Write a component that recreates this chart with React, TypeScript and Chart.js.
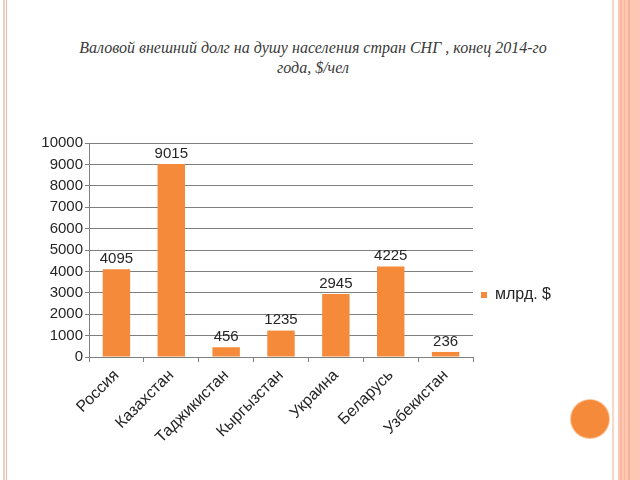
import React, { useEffect, useRef } from "react";
import { Chart, registerables } from "chart.js";

Chart.register(...registerables);

const categories = ["Россия", "Казахстан", "Таджикистан", "Кыргызстан", "Украина", "Беларусь", "Узбекистан"];
const values = [4095, 9015, 456, 1235, 2945, 4225, 236];
const seriesName = "млрд. $";
const yMin = 0;
const yMax = 10000;
const yStep = 1000;
const titleLines = ["Валовой внешний долг на душу населения стран СНГ , конец 2014-го", "года, $/чел"];

const FONT = "'Liberation Sans', Arial, sans-serif";
const BAR = "#F68A3B";
const TEXT = "#262626";

const valueLabels = {
  id: "valueLabels",
  afterDatasetsDraw(chart: any) {
    const ctx = chart.ctx;
    const meta = chart.getDatasetMeta(0);
    const data = chart.data.datasets[0].data;
    ctx.save();
    ctx.font = `15px ${FONT}`;
    ctx.fillStyle = TEXT;
    ctx.textAlign = "center";
    ctx.textBaseline = "bottom";
    meta.data.forEach((el: any, i: number) => {
      ctx.fillText(String(data[i]), el.x, el.y - 3);
    });
    ctx.restore();
  },
};

export default function App() {
  const ref = useRef<HTMLCanvasElement | null>(null);

  useEffect(() => {
    if (!ref.current) return;
    const chart = new Chart(ref.current, {
      type: "bar",
      data: {
        labels: categories,
        datasets: [
          {
            label: seriesName,
            data: values,
            backgroundColor: BAR,
            borderWidth: 0,
            categoryPercentage: 1,
            barPercentage: 0.5,
          },
        ],
      },
      options: {
        responsive: false,
        animation: false,
        devicePixelRatio: 1,
        layout: { padding: { left: 39, top: 143, right: 79, bottom: 33 } },
        plugins: {
          title: { display: false },
          tooltip: { enabled: false },
          legend: {
            position: "right",
            labels: {
              boxWidth: 6,
              boxHeight: 6,
              padding: 8,
              color: TEXT,
              font: { size: 16, family: FONT },
            },
          },
        },
        scales: {
          x: {
            afterFit: (s: any) => {
              s.height = 90;
            },
            grid: {
              display: true,
              drawOnChartArea: false,
              drawTicks: true,
              tickLength: 5,
              offset: true,
              color: "#7f7f7f",
            },
            border: { display: true, color: "#7f7f7f" },
            ticks: {
              minRotation: 45,
              maxRotation: 45,
              padding: 4,
              color: TEXT,
              font: { size: 16, family: FONT },
            },
          },
          y: {
            min: yMin,
            max: yMax,
            afterFit: (s: any) => {
              s.width = 50;
            },
            grid: {
              color: "#7f7f7f",
              tickLength: 4,
            },
            border: { display: true, color: "#7f7f7f" },
            ticks: {
              stepSize: yStep,
              padding: 2,
              color: TEXT,
              font: { size: 15, family: FONT },
              callback: (v: any) => String(v),
            },
          },
        },
      },
      plugins: [valueLabels],
    });
    return () => chart.destroy();
  }, []);

  return (
    <div
      style={{
        position: "absolute",
        left: 0,
        top: 0,
        width: 640,
        height: 480,
        overflow: "hidden",
        background: "#ffffff",
      }}
    >
      <div style={{ position: "absolute", left: 3, top: 0, width: 2, height: 480, background: "#F5CDBA" }} />
      <div style={{ position: "absolute", left: 6, top: 0, width: 1, height: 480, background: "#F2B8A6" }} />
      <div style={{ position: "absolute", left: 612, top: 0, width: 2, height: 480, background: "#F8D6C8" }} />
      <div style={{ position: "absolute", left: 618, top: 0, width: 22, height: 480, background: "#FDC7B4" }} />
      <div style={{ position: "absolute", left: 620, top: 0, width: 2, height: 480, background: "#F6B89F" }} />
      <div style={{ position: "absolute", left: 624, top: 0, width: 1, height: 480, background: "#F5B69C" }} />
      <div style={{ position: "absolute", left: 628, top: 0, width: 2, height: 480, background: "#F4B296" }} />
      <div
        style={{
          position: "absolute",
          left: 571,
          top: 400,
          width: 38,
          height: 38,
          borderRadius: "50%",
          background: "#F68A3B",
          boxShadow: "0 0 0 1px #FBC79F",
        }}
      />
      <div
        style={{
          position: "absolute",
          left: 0,
          top: 38,
          width: 626,
          textAlign: "center",
          fontFamily: "'Liberation Serif', 'DejaVu Serif', serif",
          fontStyle: "italic",
          fontSize: 16,
          lineHeight: "20px",
          color: "#3a3a3a",
        }}
      >
        {titleLines.map((t, i) => (
          <div key={i}>{t}</div>
        ))}
      </div>
      <canvas
        ref={ref}
        width={640}
        height={480}
        style={{ position: "absolute", left: 0, top: 0, width: 640, height: 480 }}
      />
    </div>
  );
}
